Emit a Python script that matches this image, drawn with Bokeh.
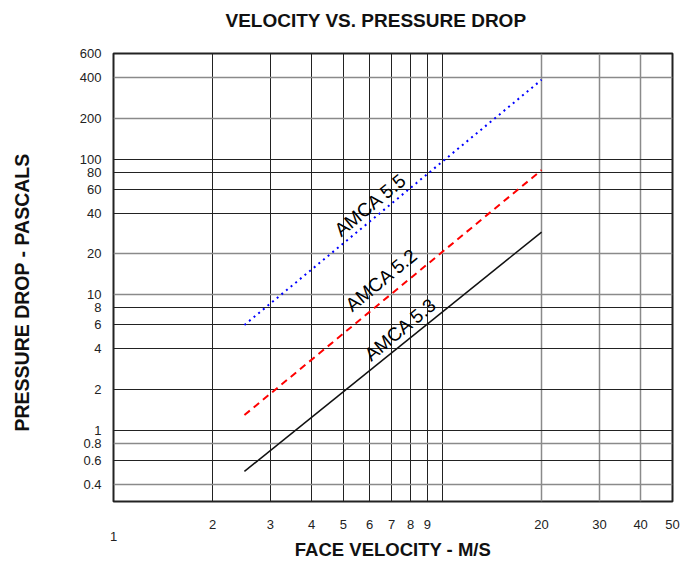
from bokeh.plotting import figure
from bokeh.models import FixedTicker, Grid, Label, Title, CustomJSTickFormatter
from bokeh.embed import file_html
from bokeh.resources import INLINE

# ---- data ----
velocity = [2.5, 20]
amca_55 = [6, 384]
amca_52 = [1.3, 83]
amca_53 = [0.5, 29]

x_ticks = [1, 2, 3, 4, 5, 6, 7, 8, 9, 20, 30, 40, 50]
y_ticks = [0.4, 0.6, 0.8, 1, 2, 4, 6, 8, 10, 20, 40, 60, 80, 100, 200, 400, 600]
x_grid_dark = [2, 3, 4, 5, 6, 7, 8, 9, 10]
x_grid_light = [20, 30, 40]
y_grid_dark = [0.6, 1, 2, 4, 6, 8, 40, 60, 80, 100]
y_grid_light = [0.4, 0.8, 10, 20, 200, 400]

labels = ["AMCA 5.5", "AMCA 5.2", "AMCA 5.3"]
label_x = [6.04, 6.53, 7.45]
label_y = [46, 12.9, 5.56]

FONT = "Liberation Sans"

p = figure(width=688, height=563, x_axis_type="log", y_axis_type="log",
           x_range=(1, 50), y_range=(0.3, 600),
           output_backend="svg", toolbar_location=None,
           min_border_left=113, min_border_right=16,
           min_border_top=53, min_border_bottom=61)

p.title.text = "VELOCITY VS. PRESSURE DROP\n"
p.title.text_font = FONT
p.title.text_font_size = "19px"
p.title.text_font_style = "bold"
p.title.align = "left"
p.title.offset = 112
p.title.standoff = 4
p.title.text_color = "#111111"

p.outline_line_color = "#222222"
p.outline_line_width = 2
p.xgrid.visible = False
p.ygrid.visible = False

for ticks, color, width, dim in [
    (x_grid_dark, "#222222", 1, 0), (x_grid_light, "#8a8a8a", 1.5, 0),
    (y_grid_dark, "#222222", 1, 1), (y_grid_light, "#8a8a8a", 1.5, 1)]:
    g = Grid(dimension=dim, ticker=FixedTicker(ticks=ticks),
             grid_line_color=color, grid_line_width=width)
    p.add_layout(g)

for ax, ticks, is_x in [(p.xaxis[0], x_ticks, True), (p.yaxis[0], y_ticks, False)]:
    ax.ticker = FixedTicker(ticks=ticks)
    ax.formatter = CustomJSTickFormatter(
        code="return String(tick);" if not is_x else
        "return tick == 1 ? '\\n1' : String(tick);")
    ax.axis_line_color = None
    ax.major_tick_line_color = None
    ax.minor_tick_line_color = None
    ax.major_tick_out = 0
    ax.major_tick_in = 0
    ax.minor_tick_out = 0
    ax.major_label_text_font = FONT
    ax.major_label_text_font_size = "13px"
    ax.major_label_text_color = "#222222"
    ax.major_label_standoff = 15 if is_x else 12

p.xaxis.major_label_text_line_height = 0.85

p.xaxis.axis_label = "FACE VELOCITY - M/S"
p.xaxis.axis_label_text_font = FONT
p.xaxis.axis_label_text_font_size = "18.5px"
p.xaxis.axis_label_text_font_style = "bold"
p.xaxis.axis_label_text_color = "#111111"
p.xaxis.axis_label_standoff = -8

ytitle = Title(text="PRESSURE DROP - PASCALS\n\n", align="left", offset=70,
               standoff=0,
               text_font=FONT, text_font_size="19.5px", text_font_style="bold",
               text_color="#111111")
p.add_layout(ytitle, "left")

p.line(velocity, amca_55, line_color="#0000ff", line_width=2, line_dash="2 4")
p.line(velocity, amca_52, line_color="#ff0000", line_width=2, line_dash="7 5")
p.line(velocity, amca_53, line_color="#111111", line_width=1.5)

for t, lx, ly in zip(labels, label_x, label_y):
    p.add_layout(Label(x=lx, y=ly, text=t, angle=0.69, text_align="center",
                       text_baseline="middle", text_font=FONT,
                       text_font_size="19px", text_color="#000000"))

open("out.html", "w").write(file_html(p, INLINE))
